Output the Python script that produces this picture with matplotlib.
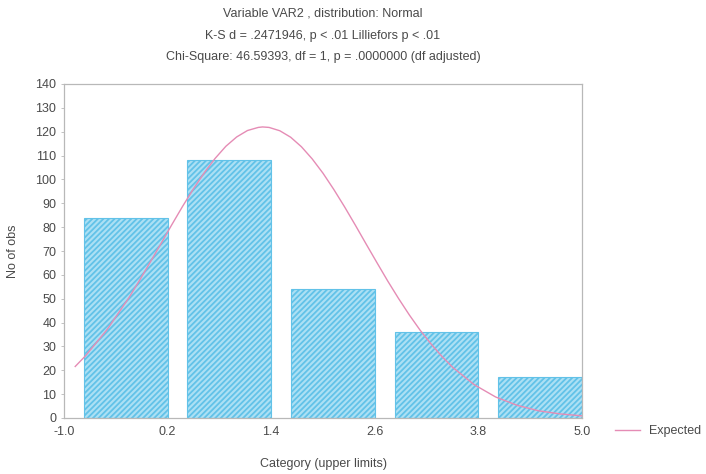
import matplotlib
matplotlib.use("Agg")
import matplotlib.pyplot as plt

# ---- data ------------------------------------------------------------------
upper_limits = [0.2, 1.4, 2.6, 3.8, 5.0]
counts = [84, 108, 54, 36, 17]
bar_width = 0.97           # bars end at the upper limit of each category

# expected (normal) curve
exp_x = [-0.87, -0.75, -0.5, -0.25, -0.125, 0.0, 0.125, 0.25, 0.375, 0.5,
         0.625, 0.75, 0.875, 1.0, 1.125, 1.25, 1.3, 1.375, 1.5, 1.625, 1.75,
         1.875, 2.0, 2.125, 2.25, 2.375, 2.5, 2.625, 2.75, 2.875, 3.0, 3.125,
         3.25, 3.375, 3.5, 3.75, 4.0, 4.25, 4.5, 4.75, 5.0]
exp_y = [21.6, 26.1, 37.1, 50.3, 57.7, 65.4, 73.2, 81.1, 88.8, 96.1,
         102.8, 108.8, 113.9, 117.8, 120.5, 121.8, 122.0, 121.8, 120.4, 117.7,
         113.7, 108.6, 102.6, 95.8, 88.5, 80.8, 72.9, 65.1, 57.4, 50.1, 43.2,
         36.8, 31.1, 25.9, 21.3, 14.0, 8.8, 5.3, 3.0, 1.7, 0.9]

x_ticks = [-1.0, 0.2, 1.4, 2.6, 3.8, 5.0]
y_ticks = list(range(0, 141, 10))

title_lines = [
    "Variable VAR2 , distribution: Normal",
    "K-S d = .2471946, p < .01 Lilliefors p < .01",
    "Chi-Square: 46.59393, df = 1, p = .0000000 (df adjusted)",
]

# ---- style -------------------------------------------------------------------
INK = "#4a4a4a"
AXIS = "#b8b8b8"
BAR_FACE = "#ace0f4"
BAR_HATCH = "#62c2e8"
CURVE = "#e58cb5"

plt.rcParams.update({
    "font.family": ["Liberation Sans", "DejaVu Sans"],
    "font.size": 9,
    "hatch.color": BAR_HATCH,
    "hatch.linewidth": 1.3,
})

fig = plt.figure(figsize=(7.06, 4.74), dpi=100)
ax = fig.add_axes([64 / 706, 1 - 418 / 474, (582 - 64) / 706, (418 - 84) / 474])

lefts = [u - bar_width for u in upper_limits]
ax.bar(lefts, counts, width=bar_width, align="edge", color=BAR_FACE,
       edgecolor=BAR_HATCH, linewidth=0.8, hatch="//////", zorder=2)
line, = ax.plot(exp_x, exp_y, color=CURVE, linewidth=1.0, zorder=3)

ax.set_xlim(-1.0, 5.0)
ax.set_ylim(0, 140)
ax.set_xticks(x_ticks)
ax.set_xticklabels([f"{v:.1f}" for v in x_ticks])
ax.set_yticks(y_ticks)
ax.tick_params(axis="both", colors=INK, labelsize=9, length=2, width=0.6,
               color=AXIS)
ax.tick_params(axis="x", length=0, pad=6)
for s in ax.spines.values():
    s.set_color(AXIS)
    s.set_linewidth(0.9)

ax.set_xlabel("Category (upper limits)", color=INK, fontsize=9, labelpad=14)
ax.set_ylabel("No of obs", color=INK, fontsize=9, labelpad=12)

for i, t in enumerate(title_lines):
    fig.text(323 / 706, 1 - (14 + 21.5 * i) / 474, t, ha="center", va="center",
             color=INK, fontsize=9)

# legend off to the right, level with the x tick labels
fig.legend([line], ["Expected"], loc="center left",
           bbox_to_anchor=(604 / 706, 1 - 431 / 474), frameon=False,
           fontsize=9, handlelength=2.0, handletextpad=0.7, labelcolor=INK)

fig.savefig("out.png", dpi=100, facecolor="white")
